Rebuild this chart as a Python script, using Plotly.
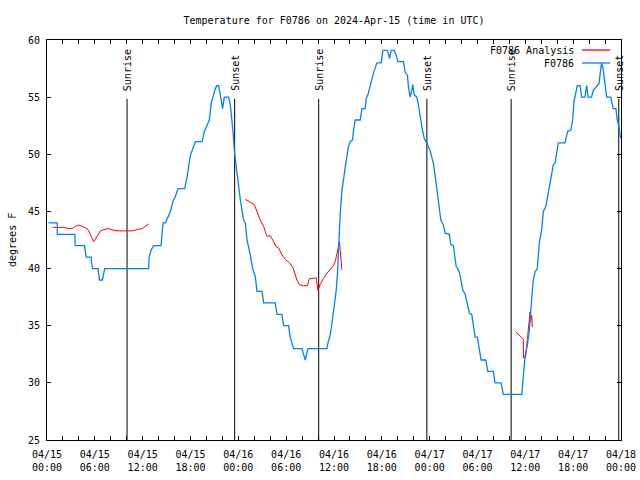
import pandas as pd
import plotly.graph_objects as go

START = pd.Timestamp("2024-04-15 00:00")

# Observed F0786 temperature (hours since 04/15 00:00 UTC, degrees F)
obs_hours = [0.19, 1.28, 1.30, 3.50, 3.53, 4.70, 4.91, 5.55, 5.58, 5.74, 6.40, 6.58, 6.95, 7.24,
             12.76, 12.80, 13.06, 13.38, 14.30, 14.41, 14.56, 14.85, 15.16, 15.48, 15.81, 16.10,
             16.44, 17.27, 17.57, 17.79, 17.98, 18.40, 18.61, 19.45, 19.74, 20.05, 20.36, 20.61,
             20.83, 21.05, 21.28, 21.53, 21.74, 22.03, 22.24, 22.78, 23.00, 23.21, 23.33, 23.53,
             23.83, 24.04, 24.25, 24.46, 24.66, 24.87, 25.09, 25.50, 25.79, 26.13, 26.34, 26.97,
             27.17, 28.63, 28.85, 29.47, 29.67, 30.30, 30.51, 30.93, 31.98, 32.27, 32.39, 32.73,
             35.11, 35.24, 35.53, 35.74, 36.03, 36.28, 36.44, 36.57, 36.78, 36.99, 37.12, 37.28,
             37.41, 37.62, 37.82, 38.03, 38.32, 38.45, 38.66, 39.29, 39.50, 39.91, 40.04, 40.25,
             40.45, 40.75, 40.95, 41.38, 41.92, 42.13, 42.70, 42.96, 43.17, 43.54, 43.80, 44.01,
             44.72, 44.92, 45.21, 45.34, 45.55, 45.76, 45.89, 46.05, 46.39, 46.59, 46.80, 47.02,
             47.31, 47.64, 48.06, 48.47, 48.81, 49.10, 49.40, 49.72, 49.94, 50.47, 50.65, 50.98,
             51.32, 51.60, 51.82, 52.16, 52.44, 52.66, 52.98, 53.28, 53.48, 53.70, 53.98, 54.24,
             54.45, 55.04, 55.29, 55.99, 56.20, 56.95, 57.24, 59.55, 59.75, 59.96, 60.25, 60.50,
             60.80, 61.00, 61.22, 61.50, 61.75, 62.05, 62.26, 62.56, 62.88, 63.18, 63.51, 63.72,
             63.93, 64.14, 64.97, 65.19, 65.31, 65.69, 65.94, 66.10, 66.35, 66.52, 66.86, 67.07,
             67.48, 67.69, 67.89, 68.31, 68.52, 68.95, 69.24, 69.45, 69.57, 69.77, 69.99, 70.20,
             70.70, 71.03, 71.36, 71.53, 71.78, 71.95]
obs_temp = [44, 44, 43, 43, 42, 42, 41, 41, 40.5, 40, 40, 39, 39, 40,
            40, 41, 41.6, 42, 42, 43, 44, 44, 44.5, 45, 45.9, 46.3,
            47, 47, 48, 49, 49.9, 50.7, 51.1, 51.1, 52, 52.5, 53, 54.5,
            55.2, 55.6, 56, 56, 55.2, 54, 55, 55, 54.3, 53, 52, 50.1,
            48.3, 46.9, 46, 45.1, 44.25, 44, 42.5, 41.2, 40, 39.3, 38, 38,
            37, 37, 36, 36, 35, 35, 34, 33, 33, 32.3, 32, 33,
            33, 33.5, 34.2, 35.2, 36.7, 38.1, 39.6, 41.9, 44.8, 46.8, 47.3, 48.2,
            48.9, 49.9, 50.7, 51.1, 51.25, 52.1, 53, 53, 54, 54, 54.9, 55.2,
            55.8, 56.5, 57.1, 58, 58, 59.1, 59.1, 58.4, 59.1, 59.1, 58.7, 58.1,
            58.1, 57.2, 56.9, 55.9, 55, 55.6, 56.1, 55.2, 55, 54.3, 53.3, 52.4,
            51.4, 51, 50.3, 49.2, 47.5, 45.7, 44.25, 43.8, 43.1, 43, 42.1, 42,
            40.2, 39.9, 39.4, 38.1, 37.8, 37.1, 36.1, 36, 34.9, 34, 34, 33,
            32, 32, 31, 31, 30, 30, 29, 29, 30.5, 32.3, 33.3, 34.6,
            37.4, 39, 39.7, 40, 42.2, 43.4, 45, 45.4, 46.6, 48, 49.1, 49.2,
            50.1, 51, 51, 51.8, 52, 52.1, 53, 54.6, 55.6, 56, 56, 55,
            55, 56, 55, 55, 55.6, 56, 56.2, 57.4, 58, 57.4, 56.2, 55,
            55, 54, 54, 53, 52.3, 51.4]

# Analysis series (three separate pieces; None breaks the line)
ana_hours = [0.73, 2.11, 2.73, 3.16, 3.57, 3.98, 4.41, 5.04, 5.36, 5.66, 5.86, 6.08, 6.37, 6.70,
             7.12, 7.74, 8.17, 8.80, 9.62, 10.68, 11.30, 11.93, 12.34, 12.76, 12.77,
             24.87, 25.29, 25.71, 26.00, 26.34, 26.75, 27.17, 27.59, 28.01, 28.35, 28.76, 29.05,
             29.47, 29.89, 30.43, 30.85, 31.14, 31.35, 31.68, 32.18, 32.68, 32.89, 33.43, 33.77,
             33.98, 34.27, 34.69, 35.11, 35.53, 35.86, 36.15, 36.37, 36.57, 36.69, 36.78, 36.87,
             36.99, 37.00,
             58.80, 59.12, 59.46, 59.75, 59.77, 60.03, 60.59, 60.63, 60.80, 60.88]
ana_temp = [43.6, 43.6, 43.5, 43.5, 43.7, 43.8, 43.7, 43.5, 43.1, 42.6, 42.35, 42.6, 42.9, 43.3,
            43.4, 43.5, 43.4, 43.3, 43.3, 43.3, 43.4, 43.5, 43.7, 43.9, None,
            46.06, 45.9, 45.7, 45.6, 45.0, 44.25, 43.7, 42.8, 42.9, 42.5, 41.9, 41.8,
            41.2, 40.8, 40.5, 40.1, 39.4, 39.0, 38.6, 38.5, 38.5, 39.1, 39.15, 39.2,
            38.1, 38.6, 39.15, 39.6, 39.9, 40.2, 40.6, 41.3, 41.8, 42.35, 41.6, 40.5,
            39.9, None,
            34.45, 34.25, 34.0, 33.8, 32.2, 32.2, 36.2, 35.3, 35.9, 34.9]

sunrise_hours = [10.04, 34.08, 58.22]
sunset_hours = [23.54, 47.65, 71.72]

tick_hours = [0, 6, 12, 18, 24, 30, 36, 42, 48, 54, 60, 66, 72]
tick_text = ["04/15<br>00:00", "04/15<br>06:00", "04/15<br>12:00", "04/15<br>18:00",
             "04/16<br>00:00", "04/16<br>06:00", "04/16<br>12:00", "04/16<br>18:00",
             "04/17<br>00:00", "04/17<br>06:00", "04/17<br>12:00", "04/17<br>18:00",
             "04/18<br>00:00"]
y_ticks = [25, 30, 35, 40, 45, 50, 55, 60]


def to_time(hours):
    return [START + pd.Timedelta(hours=h) for h in hours]


FONT = "DejaVu Sans Mono"
RED = "#ff0000"
BLUE = "#0080ff"

fig = go.Figure()
fig.add_trace(go.Scatter(x=to_time(ana_hours), y=ana_temp, mode="lines",
                         line=dict(color=RED, width=1), connectgaps=False,
                         name="F0786 Analysis", showlegend=False))
fig.add_trace(go.Scatter(x=to_time(obs_hours), y=obs_temp, mode="lines",
                         line=dict(color=BLUE, width=1.3),
                         name="F0786", showlegend=False))

shapes = []
annotations = []
for hrs, label in [(h, "Sunrise") for h in sunrise_hours] + [(h, "Sunset") for h in sunset_hours]:
    t = START + pd.Timedelta(hours=hrs)
    shapes.append(dict(type="line", xref="x", yref="y", x0=t, x1=t, y0=25, y1=54.85,
                       line=dict(color="black", width=1), layer="below"))
    annotations.append(dict(x=t, y=55.35, xref="x", yref="y", text=label, textangle=-90,
                            showarrow=False, xanchor="center", yanchor="bottom",
                            font=dict(family=FONT, size=10, color="black")))

# legend drawn gnuplot style (text right-aligned, sample to its right)
legend_items = [("F0786 Analysis", RED, 0.975), ("F0786", BLUE, 0.9425)]
for text, col, yp in legend_items:
    annotations.append(dict(x=0.921, y=yp, xref="paper", yref="paper", text=text,
                            showarrow=False, xanchor="right", yanchor="middle",
                            font=dict(family=FONT, size=10, color="black")))
    shapes.append(dict(type="line", xref="paper", yref="paper", x0=0.932, x1=0.981,
                       y0=yp, y1=yp, line=dict(color=col, width=1.3)))

annotations.append(dict(x=-0.061, y=0.5, xref="paper", yref="paper", text="degrees F",
                        textangle=-90, showarrow=False, xanchor="center", yanchor="middle",
                        font=dict(family=FONT, size=10, color="black")))

fig.update_layout(
    width=640, height=480,
    margin=dict(l=47, r=19, t=40, b=40, autoexpand=False),
    paper_bgcolor="white", plot_bgcolor="white",
    font=dict(family=FONT, size=10, color="black"),
    title=dict(text="Temperature for F0786 on 2024-Apr-15 (time in UTC)",
               x=0.5, xref="paper", y=1 - 20 / 480, yref="container",
               xanchor="center", yanchor="middle",
               font=dict(family=FONT, size=10, color="black")),
    shapes=shapes, annotations=annotations, showlegend=False,
)
fig.update_xaxes(type="date", automargin=False,
                 range=[START, START + pd.Timedelta(hours=72)],
                 tickvals=to_time(tick_hours), ticktext=tick_text,
                 ticks="inside", ticklen=4, tickcolor="black",
                 showline=True, linecolor="black", linewidth=1, mirror="ticks",
                 showgrid=False, zeroline=False, ticklabelstandoff=5,
                 minor=dict(dtick=2 * 3600 * 1000, ticks="inside", ticklen=4,
                            tickcolor="black", showgrid=False),
                 tickfont=dict(family=FONT, size=10, color="black"))
fig.update_yaxes(range=[25, 60], tickvals=y_ticks, automargin=False,
                 ticks="inside", ticklen=4, tickcolor="black",
                 showline=True, linecolor="black", linewidth=1, mirror="ticks",
                 showgrid=False, zeroline=False, ticklabelstandoff=4,
                 tickfont=dict(family=FONT, size=10, color="black"))

# remove the browser's default 8px page margin so the figure sits at the window origin
fig.write_html("out.html", config={"displayModeBar": False},
               post_script="document.body.style.margin='0';")
